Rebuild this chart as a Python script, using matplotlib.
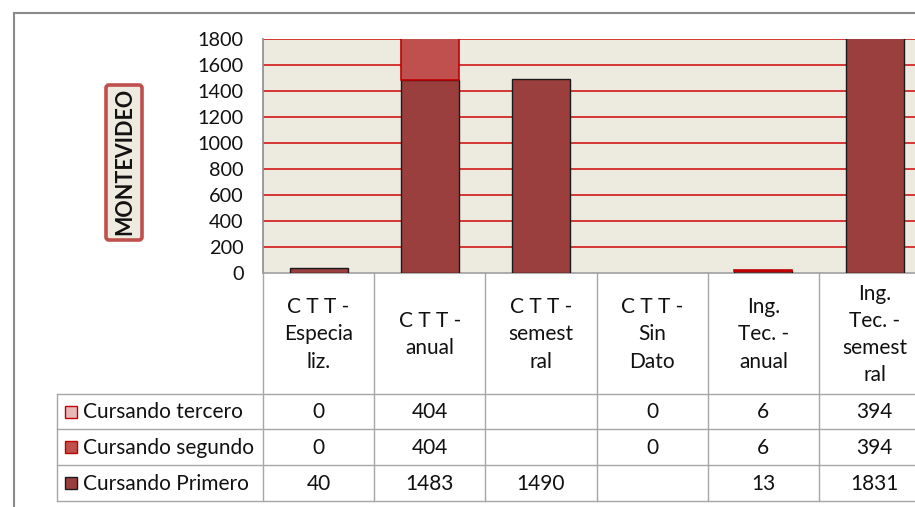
import matplotlib
matplotlib.use("Agg")
import matplotlib.pyplot as plt
import numpy as np
from matplotlib.transforms import blended_transform_factory
from matplotlib.patches import Rectangle, FancyBboxPatch

# --- data -------------------------------------------------------------
categories = [
    "C T T -\nEspecia\nliz.",
    "C T T -\nanual",
    "C T T -\nsemest\nral",
    "C T T -\nSin\nDato",
    "Ing.\nTec. -\nanual",
    "Ing.\nTec. -\nsemest\nral",
]
primero = [40, 1483, 1490, None, 13, 1831]
segundo = [0, 404, None, 0, 6, 394]
tercero = [0, 404, None, 0, 6, 394]
series_names = ["Cursando tercero", "Cursando segundo", "Cursando Primero"]
y_ticks = [0, 200, 400, 600, 800, 1000, 1200, 1400, 1600, 1800]
region = "MONTEVIDEO"

# --- styling ----------------------------------------------------------
FONT = "Lato"
c_prim, c_seg, c_ter = "#9B3F3E", "#C0504D", "#E6B9B8"
e_prim, e_seg, e_ter = "#1A1A1A", "#C00000", "#C00000"
grid_c = "#D01818"
bg = "#EDEAE0"
line_grey = "#A6A6A6"
TXT = 15

W, H = 915, 507
fig = plt.figure(figsize=(W / 100, H / 100), dpi=100)

# pixel overlay for frame and table
ov = fig.add_axes([0, 0, 1, 1], zorder=0)
ov.set_xlim(0, W)
ov.set_ylim(H, 0)
ov.axis("off")

# plot area (right edge runs past the figure)
px_left, px_top, px_bottom = 263, 39, 273
col_w = 111.2
n = len(categories)
ax = fig.add_axes([px_left / W, (H - px_bottom) / H,
                   n * col_w / W, (px_bottom - px_top) / H], zorder=2)
ax.set_facecolor(bg)
ax.set_xlim(0, n)
ax.set_ylim(0, 1800)
ax.set_yticks(y_ticks)
ax.set_yticklabels([str(t) for t in y_ticks], fontsize=14.3, family=FONT, color="#111111")
ax.tick_params(axis="y", length=0, pad=14)
ax.set_xticks([])
for s in ["top", "right"]:
    ax.spines[s].set_visible(False)
ax.spines["left"].set_color("#8C8C8C")
ax.spines["bottom"].set_color("#A0A0A0")
ax.spines["left"].set_linewidth(1.2)
ax.spines["bottom"].set_linewidth(1.2)
for t in y_ticks[1:]:
    ax.axhline(t, color=grid_c, lw=1.2, zorder=1)

def vals(v):
    return np.array([0 if x is None else x for x in v], dtype=float)

x = np.arange(n) + 0.5
bw = 0.52
p = vals(primero)
s2 = vals(segundo)
s3 = vals(tercero)
stacks = [
    ax.bar(x, p, bw, color=c_prim, edgecolor=e_prim, lw=1.0, zorder=3),
    ax.bar(x, s2, bw, bottom=p, color=c_seg, edgecolor=e_seg, lw=1.2, zorder=3),
    ax.bar(x, s3, bw, bottom=p + s2, color=c_ter, edgecolor=e_ter, lw=1.2, zorder=3),
]
# empty segments are not drawn at all
for cont in stacks:
    for rect in cont:
        if rect.get_height() == 0:
            rect.set_visible(False)

# --- outer chart frame --------------------------------------------------
ov.plot([14, 14], [13, H + 10], color="#8A8A8A", lw=1.5, clip_on=False)
ov.plot([14, W + 10], [13, 13], color="#8A8A8A", lw=1.5, clip_on=False)

# --- region label -------------------------------------------------------
box = FancyBboxPatch((106, 85), 36, 155, boxstyle="round,pad=0,rounding_size=3",
                     facecolor=bg, edgecolor="#C0504D", lw=2.6, zorder=3)
ov.add_patch(box)
ov.text(124.5, 161, region, rotation=90, ha="center", va="center",
        fontsize=15.5, fontweight="bold", family=FONT, color="#111111", zorder=4)

# --- data table ---------------------------------------------------------
tr = blended_transform_factory(ax.transData, ov.transData)
head_top, head_bot = px_bottom, 394
row_edges = [394, 429, 465, 501]
table_left = 57

# vertical column dividers
for i in range(n + 1):
    ov.plot([i, i], [head_top, row_edges[-1]], color=line_grey, lw=1.0,
            transform=tr, zorder=1, clip_on=False)
ov.plot([table_left, table_left], [row_edges[0], row_edges[-1]],
        color=line_grey, lw=1.0, zorder=1)
for yv in row_edges:
    ov.plot([table_left, W + 10], [yv, yv], color=line_grey, lw=1.0, zorder=1,
            clip_on=False)

# header labels
for i, lab in enumerate(categories):
    ov.text(i + 0.5, (head_top + head_bot) / 2 + 1, lab, transform=tr,
            ha="center", va="center", fontsize=TXT, family=FONT,
            color="#111111", linespacing=1.45)

rows = [(series_names[0], tercero, c_ter, e_ter),
        (series_names[1], segundo, c_seg, e_seg),
        (series_names[2], primero, c_prim, e_prim)]
for r, (name, values, fc, ec) in enumerate(rows):
    yc = (row_edges[r] + row_edges[r + 1]) / 2
    ov.add_patch(Rectangle((64.5, yc - 6), 12, 12, facecolor=fc, edgecolor=ec,
                           lw=1.0, zorder=3))
    ov.text(83, yc + 1, name, ha="left", va="center", fontsize=TXT,
            family=FONT, color="#111111")
    for i, v in enumerate(values):
        if v is None:
            continue
        ov.text(i + 0.5, yc + 1, str(v), transform=tr, ha="center", va="center",
                fontsize=TXT, family=FONT, color="#111111")

fig.savefig("out.png", dpi=100, facecolor="white")
